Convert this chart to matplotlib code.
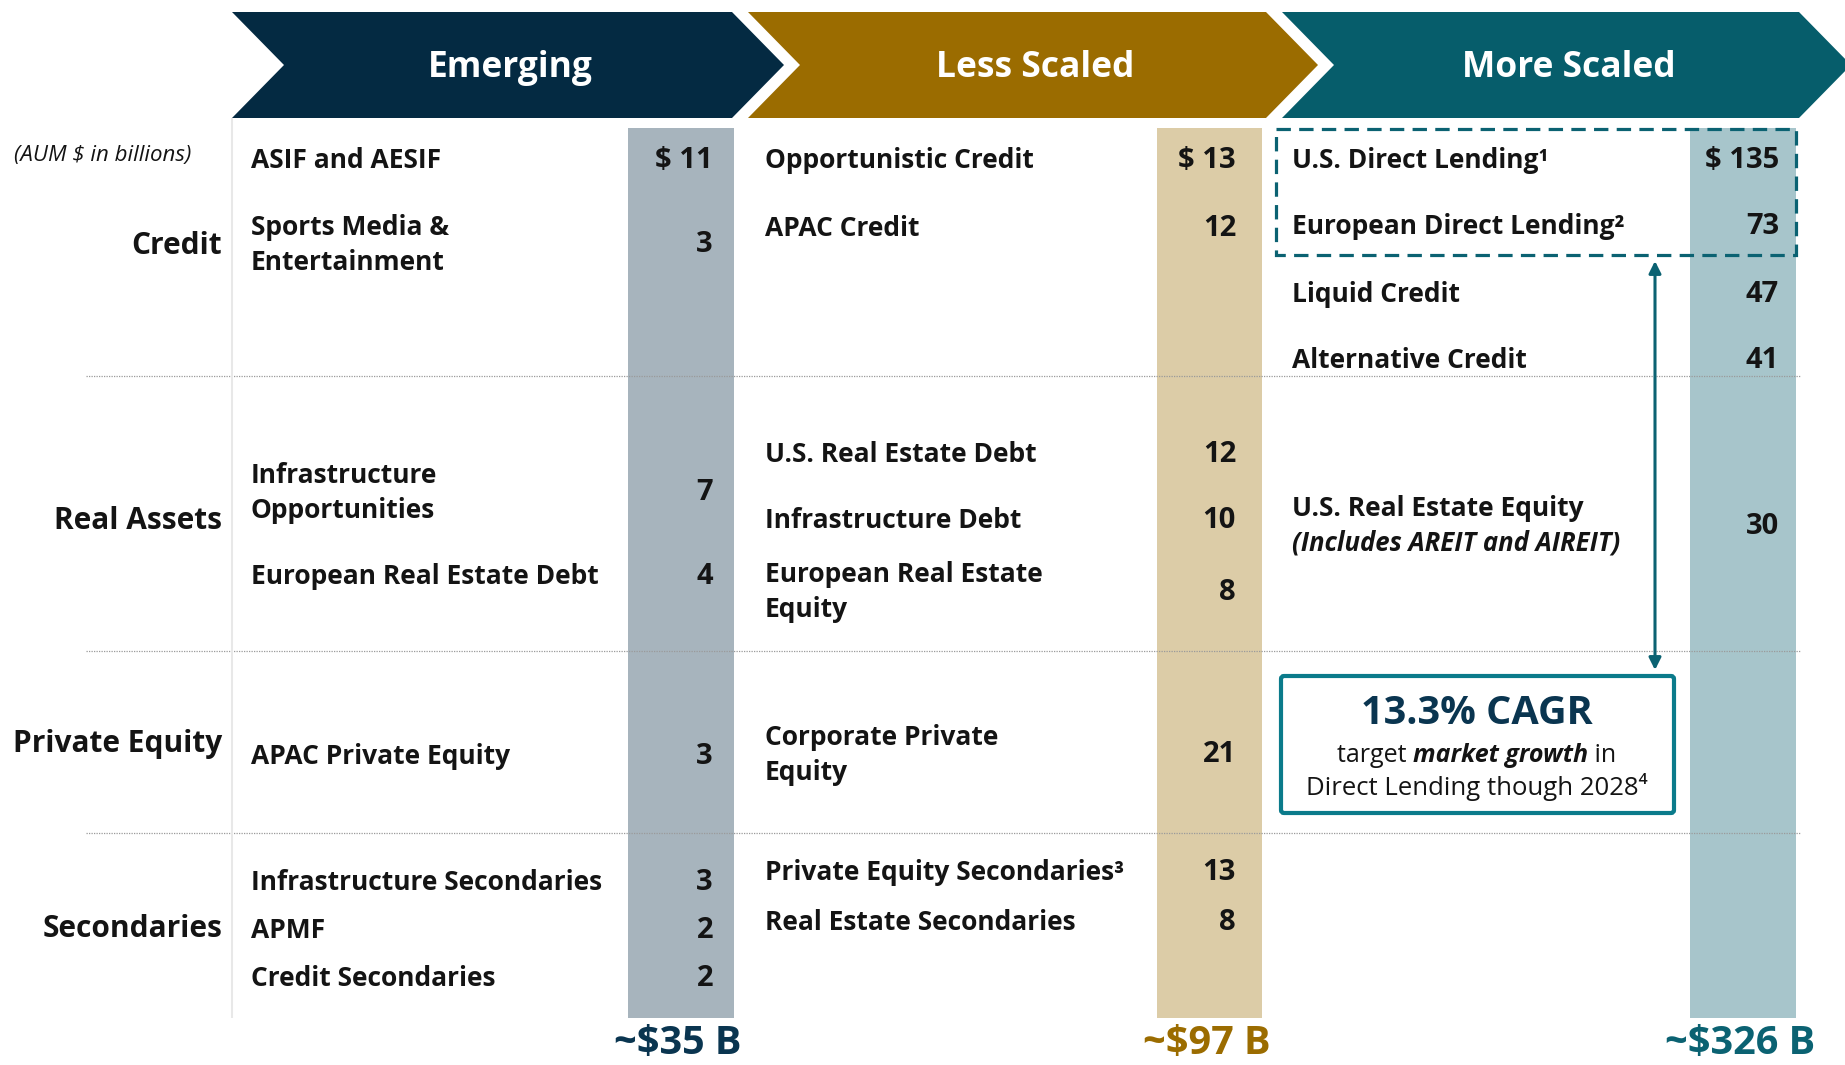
import matplotlib.pyplot as plt
from matplotlib.patches import Polygon, Rectangle, FancyBboxPatch

# ---- data ----
stages = ["Emerging", "Less Scaled", "More Scaled"]
sectors = ["Credit", "Real Assets", "Private Equity", "Secondaries"]
stage_totals = [35, 97, 326]

emerging_funds = ["ASIF and AESIF", "Sports Media &\nEntertainment",
                  "Infrastructure\nOpportunities", "European Real Estate Debt",
                  "APAC Private Equity", "Infrastructure Secondaries", "APMF",
                  "Credit Secondaries"]
emerging_aum = [11, 3, 7, 4, 3, 3, 2, 2]

less_funds = ["Opportunistic Credit", "APAC Credit", "U.S. Real Estate Debt",
              "Infrastructure Debt", "European Real Estate\nEquity",
              "Corporate Private\nEquity", "Private Equity Secondaries³",
              "Real Estate Secondaries"]
less_aum = [13, 12, 12, 10, 8, 21, 13, 8]

more_funds = ["U.S. Direct Lending¹", "European Direct Lending²", "Liquid Credit",
              "Alternative Credit", "U.S. Real Estate Equity"]
more_aum = [135, 73, 47, 41, 30]
more_note = "(Includes AREIT and AIREIT)"

cagr_text = "13.3% CAGR"

# ---- layout (pixels) ----
emerging_y = [161, 245, 493, 577, 757, 882, 931, 978]
less_y = [161, 228, 455, 520, 592, 755, 873, 923]
more_y = [161, 227, 294, 361, 526]
sector_y = [246, 521, 744, 929]
sep_y = [376, 651, 833]

text_x = [251, 765, 1292]
val_right = [713, 1236, 1779]
bar_left = [628, 1157, 1690]
bar_right = [734, 1262, 1796]
bar_top, bar_bot = 128, 1018

head_col = ["#042a42", "#9b6c00", "#065d6b"]
bar_col = ["#a7b4bd", "#dccca7", "#a7c5cb"]
tot_col = ["#0a3550", "#9b6c00", "#0b6272"]
ink = "#141414"
teal = "#0b6272"

FONT = ["Open Sans", "DejaVu Sans"]
plt.rcParams['font.family'] = FONT

fig = plt.figure(figsize=(18.45, 10.65), dpi=100)
ax = fig.add_axes([0, 0, 1, 1])
ax.set_xlim(0, 1845)
ax.set_ylim(1065, 0)
ax.axis('off')

# chevron headers
chev_left = [232, 748, 1282]
chev_right = [732, 1266, 1799]
top, bot, mid, d = 12, 118, 65, 52
for i, name in enumerate(stages):
    l, r = chev_left[i], chev_right[i]
    pts = [(l, top), (r, top), (r + d, mid), (r, bot), (l, bot), (l + d, mid)]
    ax.add_patch(Polygon(pts, closed=True, facecolor=head_col[i], edgecolor='none'))
    ax.text((l + r + d) / 2 + 2, mid + 3, name, color='white', fontsize=25.5,
            fontweight='bold', ha='center', va='center')

# value columns
centers = [(a + b) / 2 for a, b in zip(bar_left, bar_right)]
widths = [b - a for a, b in zip(bar_left, bar_right)]
ax.bar(centers, [bar_bot - bar_top] * 3, width=widths, bottom=bar_top,
       color=bar_col, zorder=1)

# separators
ax.hlines(sep_y, 86, 1800, colors='#9a9a9a', linestyles=(0, (1, 1)), lw=0.9, zorder=2)
ax.vlines(232, 118, bar_bot, colors='#e8e8e8', lw=1.5)

ax.text(14, 156, "(AUM $ in billions)", fontsize=16, style='italic', color=ink,
        ha='left', va='center')
for name, y in zip(sectors, sector_y):
    ax.text(222, y, name, fontsize=21.5, fontweight='bold', color=ink,
            ha='right', va='center')

# fund lists
columns = [(emerging_funds, emerging_aum, emerging_y),
           (less_funds, less_aum, less_y),
           (more_funds, more_aum, more_y)]
for c, (funds, aum, ys) in enumerate(columns):
    for k, (f, v, y) in enumerate(zip(funds, aum, ys)):
        ty = y - 18 if f == "U.S. Real Estate Equity" else y
        ax.text(text_x[c], ty, f, fontsize=19, fontweight='bold', color=ink,
                ha='left', va='center', linespacing=1.38, zorder=3)
        label = f"$ {v}" if k == 0 else f"{v}"
        ax.text(val_right[c], y, label, fontsize=21, fontweight='bold', color=ink,
                ha='right', va='center', zorder=3)
ax.text(text_x[2], more_y[4] + 17, more_note, fontsize=18.5, fontweight='bold',
        style='italic', color=ink, ha='left', va='center', zorder=3)

# totals
for c, t in enumerate(stage_totals):
    ax.text(centers[c] - 3, 1044, f"~${t} B", fontsize=28.5, fontweight='bold',
            color=tot_col[c], ha='center', va='center')

# dashed direct-lending box and arrow
ax.add_patch(Rectangle((1276, 129), 520, 126, fill=False, edgecolor=teal,
                       lw=2.3, linestyle=(0, (4.5, 2.6)), zorder=4))
ax.annotate('', xy=(1655, 261), xytext=(1655, 670),
            arrowprops=dict(arrowstyle='<|-|>', color=teal, lw=2.2,
                            mutation_scale=18, shrinkA=0, shrinkB=0))

# CAGR box
ax.add_patch(FancyBboxPatch((1281, 676), 393, 137,
                            boxstyle="round,pad=0,rounding_size=3",
                            facecolor='white', edgecolor='#0b7b8b', lw=3, zorder=4))
ax.text(1477, 714, cagr_text, fontsize=28.5, fontweight='bold', color='#0a3550',
        ha='center', va='center', zorder=5)

renderer = fig.canvas.get_renderer()


def styled_line(pieces, xc, y, size):
    objs = []
    for s, w, st in pieces:
        objs.append(ax.text(0, y, s, fontsize=size, fontweight=w, style=st,
                            color=ink, ha='left', va='center', zorder=5))
    ws = [o.get_window_extent(renderer).width for o in objs]
    x = xc - sum(ws) / 2
    for o, w in zip(objs, ws):
        o.set_x(x)
        x += w


styled_line([("target ", 'normal', 'normal'), ("market growth", 'bold', 'italic'),
             (" in", 'normal', 'normal')], 1477, 755, 18)
styled_line([("Direct Lending though 2028⁴", 'normal', 'normal')], 1477, 787, 18.5)

fig.savefig("out.png", dpi=100)
